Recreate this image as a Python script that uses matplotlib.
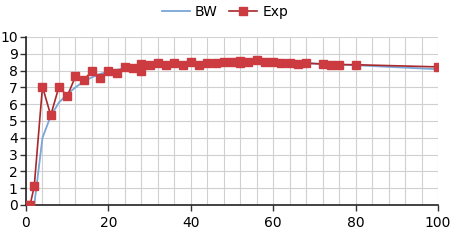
import matplotlib
matplotlib.use("Agg")
import matplotlib.pyplot as plt
from matplotlib.ticker import MultipleLocator

exp_x = [0, 1, 2, 4, 6, 8, 10, 12, 14, 16, 18, 20, 22, 24, 26, 28, 28, 30, 32, 34, 36, 38,
         40, 42, 44, 46, 48, 50, 52, 52, 54, 56, 58, 60, 62, 64, 66, 68, 72, 74, 76, 80, 100]
exp_y = [0, 0, 1.12, 7.04, 5.34, 7.04, 6.47, 7.65, 7.45, 7.95, 7.55, 8.0, 7.88, 8.22, 8.13, 8.40, 8.0,
         8.33, 8.45, 8.36, 8.48, 8.36, 8.52, 8.35, 8.48, 8.44, 8.52, 8.50, 8.59, 8.46, 8.52,
         8.62, 8.54, 8.54, 8.48, 8.48, 8.41, 8.44, 8.39, 8.35, 8.36, 8.35, 8.22]

bw_x = [2, 4, 6, 8, 10, 12, 14, 16, 18, 20, 22, 24, 26, 28, 30, 32, 36, 40, 44, 48, 52, 56,
        60, 64, 68, 72, 76, 80, 100]
bw_y = [0, 4.0, 5.3, 6.1, 6.6, 7.0, 7.35, 7.6, 7.8, 7.95, 8.05, 8.13, 8.2, 8.27, 8.33, 8.38,
        8.43, 8.46, 8.48, 8.5, 8.51, 8.51, 8.5, 8.47, 8.44, 8.4, 8.36, 8.32, 8.08]

fig = plt.figure(figsize=(4.5, 2.4), dpi=100)
ax = fig.add_axes([26/450, 35/240, 412/450, 168/240])

ax.plot(bw_x, bw_y, color='#7aa6d8', lw=1.3, label='BW', zorder=3)
ax.plot(exp_x, exp_y, color='#a8282c', lw=1.2, marker='s', ms=5.5,
        markerfacecolor='#cc3b40', markeredgecolor='#cc3b40', label='Exp', zorder=4)

ax.set_xlim(0, 100)
ax.set_ylim(0, 10)
ax.xaxis.set_major_locator(MultipleLocator(20))
ax.xaxis.set_minor_locator(MultipleLocator(4))
ax.yaxis.set_major_locator(MultipleLocator(1))
ax.grid(which='major', color='#d0d0d0', lw=0.8)
ax.grid(which='minor', axis='x', color='#d0d0d0', lw=0.8)
ax.set_axisbelow(True)
ax.tick_params(which='minor', length=0)
ax.tick_params(axis='both', which='major', labelsize=10, length=4, width=1, color='#333333',
               direction='out', pad=2)
ax.tick_params(axis='x', pad=4)
for s in ['top', 'right']:
    ax.spines[s].set_visible(False)
for s in ['left', 'bottom']:
    ax.spines[s].set_color('#222222')
    ax.spines[s].set_linewidth(1.2)

leg = fig.legend(loc='upper center', bbox_to_anchor=(0.5, 1.03), ncol=2, frameon=False,
                 fontsize=10, handlelength=2.0, columnspacing=0.8, handletextpad=0.4)

fig.savefig('out.png', dpi=100)
